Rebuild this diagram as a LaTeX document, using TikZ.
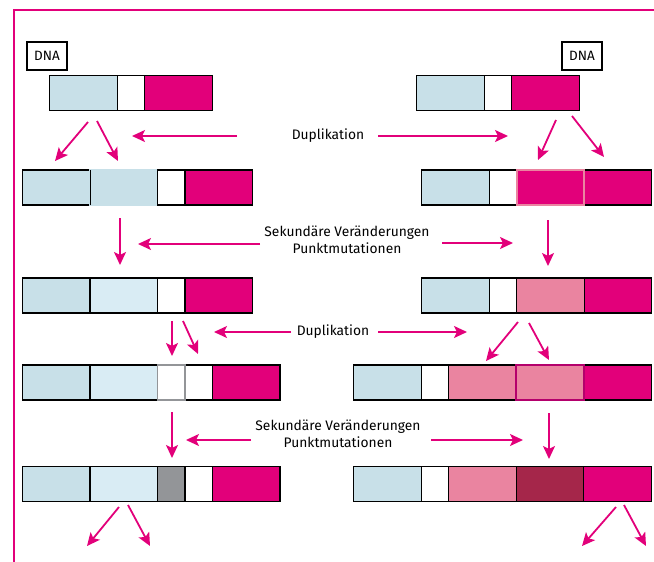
\documentclass[tikz,border=0pt]{standalone}
\usepackage{fontspec}
\setmainfont{Fira Sans}
\usepackage{xcolor}
\usetikzlibrary{arrows.meta, matrix}

\definecolor{dnablue}{HTML}{C8E0E8}
\definecolor{dnapale}{HTML}{D9ECF4}
\definecolor{dnamag}{HTML}{E2007A}
\definecolor{dnapink}{HTML}{EA84A0}
\definecolor{dnadark}{HTML}{A5264A}
\definecolor{dnagray}{HTML}{939598}
\definecolor{dnaedge}{HTML}{B4006C}

\begin{document}
\begin{tikzpicture}[x=1pt, y=-1pt,
  bar/.style={matrix of nodes, anchor=west, inner sep=0pt, outer sep=0pt, column sep=-1.3pt,
    nodes={draw, line width=1.3pt, minimum height=35pt, minimum width=67.5pt, inner sep=0pt, outer sep=0pt, anchor=center}},
  wt/.style={fill=white, minimum width=27.5pt},
  lb/.style={fill=dnablue}, pl/.style={fill=dnapale}, mg/.style={fill=dnamag},
  pk/.style={fill=dnapink}, dk/.style={fill=dnadark}, gy/.style={fill=dnagray, minimum width=27.5pt},
  arr/.style={dnamag, line width=1.8pt, -{Stealth[length=13pt, width=12pt, inset=3pt]}},
  lbl/.style={font=\fontsize{13.8}{17}\selectfont, align=center, inner sep=0pt},
  tag/.style={draw, line width=1.3pt, minimum width=40pt, minimum height=28pt, inner sep=0pt, font=\fontsize{13.5}{15}\selectfont}]
\useasboundingbox (0,0) rectangle (654,562);
\draw[dnamag, line width=2pt] (14,562) -- (14,10) -- (654,10);

\node[tag] (dnal) at (47,56) {DNA};
\node[tag] (dnar) at (582,56) {DNA};

% gene bars
\matrix (b1l) [bar] at (49,93) { |[lb]| & |[wt]| & |[mg]| \\ };
\matrix (b1r) [bar] at (416,93) { |[lb]| & |[wt]| & |[mg]| \\ };
\matrix (b2l) [bar] at (22,187.5) { |[lb]| & |[lb, draw=dnablue]| & |[wt]| & |[mg]| \\ };
\matrix (b2r) [bar] at (421,187.5) { |[lb]| & |[wt]| & |[mg]| & |[mg]| \\ };
\matrix (b3l) [bar] at (22,295.5) { |[lb]| & |[pl]| & |[wt]| & |[mg]| \\ };
\matrix (b3r) [bar] at (421,295.5) { |[lb]| & |[wt]| & |[pk]| & |[mg]| \\ };
\matrix (b4l) [bar] at (22,382.5) { |[lb]| & |[pl]| & |[wt, draw=dnagray]| & |[wt]| & |[mg]| \\ };
\matrix (b4r) [bar] at (353,382.5) { |[lb]| & |[wt]| & |[pk]| & |[pk]| & |[mg]| \\ };
\matrix (b5l) [bar] at (22,484) { |[lb]| & |[pl]| & |[gy]| & |[wt]| & |[mg]| \\ };
\matrix (b5r) [bar] at (353,484) { |[lb]| & |[wt]| & |[pk]| & |[dk]| & |[mg]| \\ };

% duplicated segments
\draw[line width=1.3pt] (b2l-1-1.north east) -- (b2l-1-1.south east);
\draw[dnapink, line width=2pt] (b2r-1-3.north west) rectangle (b2r-1-3.south east);
\draw[dnagray, line width=1.6pt] (b4l-1-3.north west) rectangle (b4l-1-3.south east);
\draw[dnaedge, line width=2pt] (b4r-1-4.north west) rectangle (b4r-1-4.south east);

\node[lbl] (dup1) at (328,136) {Duplikation};
\node[lbl] (sek1) at (347,240) {Sekundäre Veränderungen\\Punktmutationen};
\node[lbl] (dup2) at (333,332) {Duplikation};
\node[lbl] (sek2) at (338,434) {Sekundäre Veränderungen\\Punktmutationen};

% arrow ends
\coordinate (a1) at (88,122);   \coordinate (a1t) at (55,161);
\coordinate (a2) at (97,121);   \coordinate (a2t) at (118,161);
\coordinate (a3) at (556,120);  \coordinate (a3t) at (538,160);
\coordinate (a4) at (572,116);  \coordinate (a4t) at (604,157);
\coordinate (a5) at (120,218);  \coordinate (a5t) at (120,265);
\coordinate (a6) at (548,220);  \coordinate (a6t) at (548,266);
\coordinate (a7) at (172,321);  \coordinate (a7t) at (172,356);
\coordinate (a8) at (183,321);  \coordinate (a8t) at (198,354);
\coordinate (a9) at (518,322);  \coordinate (a9t) at (486,361);
\coordinate (a10) at (529,323); \coordinate (a10t) at (549,360);
\coordinate (a11) at (172,412); \coordinate (a11t) at (172,458);
\coordinate (a12) at (549,413); \coordinate (a12t) at (549,459);
\coordinate (a13) at (119,507); \coordinate (a13t) at (87,546);
\coordinate (a14) at (128,505); \coordinate (a14t) at (150,546);
\coordinate (a15) at (616,507); \coordinate (a15t) at (582,546);
\coordinate (a16) at (624,505); \coordinate (a16t) at (646,546);
\coordinate (l1) at (237,136);  \coordinate (l1t) at (132,136);
\coordinate (r1) at (378,136);  \coordinate (r1t) at (508,136);
\coordinate (l2) at (260,244);  \coordinate (l2t) at (138,244);
\coordinate (r2) at (442,243);  \coordinate (r2t) at (513,243);
\coordinate (l3) at (291,332);  \coordinate (l3t) at (214,332);
\coordinate (r3) at (378,332);  \coordinate (r3t) at (467,332);
\coordinate (l4) at (251,440);  \coordinate (l4t) at (186,440);
\coordinate (r4) at (431,440);  \coordinate (r4t) at (523,440);

\draw[arr] (a1) -- (a1t);   \draw[arr] (a2) -- (a2t);
\draw[arr] (a3) -- (a3t);   \draw[arr] (a4) -- (a4t);
\draw[arr] (a5) -- (a5t);   \draw[arr] (a6) -- (a6t);
\draw[arr] (a7) -- (a7t);   \draw[arr] (a8) -- (a8t);
\draw[arr] (a9) -- (a9t);   \draw[arr] (a10) -- (a10t);
\draw[arr] (a11) -- (a11t); \draw[arr] (a12) -- (a12t);
\draw[arr] (a13) -- (a13t); \draw[arr] (a14) -- (a14t);
\draw[arr] (a15) -- (a15t); \draw[arr] (a16) -- (a16t);
\draw[arr] (l1) -- (l1t);   \draw[arr] (r1) -- (r1t);
\draw[arr] (l2) -- (l2t);   \draw[arr] (r2) -- (r2t);
\draw[arr] (l3) -- (l3t);   \draw[arr] (r3) -- (r3t);
\draw[arr] (l4) -- (l4t);   \draw[arr] (r4) -- (r4t);
\end{tikzpicture}
\end{document}
